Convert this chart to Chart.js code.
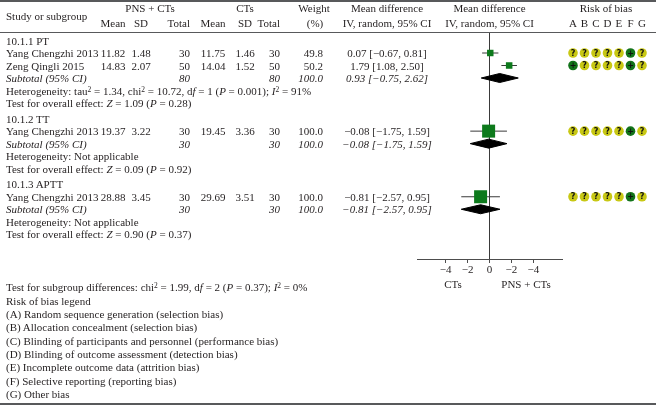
<!DOCTYPE html>
<html>
<head>
<meta charset="utf-8">
<script src="https://cdn.jsdelivr.net/npm/chart.js@4.4.0/dist/chart.umd.min.js"></script>
<style>
body { margin: 0; background: #fff; }
#wrap { position: relative; width: 656px; height: 406px; overflow: hidden;
        font-family: "Liberation Serif", serif; font-size: 11px; color: #231f20; }
#wrap canvas { position: absolute; left: 0; top: 0; }
.t { position: absolute; white-space: nowrap; line-height: 12px; }
.t sup { font-size: 7.5px; line-height: 0; vertical-align: 3.5px; }
.it { font-style: italic; }
.rule { position: absolute; left: 0; width: 656px; background: #58595b; }
</style>
</head>
<body>
<div id="wrap"><canvas id="c" width="656" height="406"></canvas></div>
<script>
// subgroups and studies
const subgroups = ['10.1.1 PT', '10.1.2 TT', '10.1.3 APTT'];
const studies = ['Yang Chengzhi 2013', 'Zeng Qingli 2015', 'Yang Chengzhi 2013', 'Yang Chengzhi 2013'];
const studyGroup = [0, 0, 1, 2];

// PNS + CTs arm
const expMean = [11.82, 14.83, 19.37, 28.88];
const expSD = [1.48, 2.07, 3.22, 3.45];
const expN = [30, 50, 30, 30];
// CTs arm
const ctlMean = [11.75, 14.04, 19.45, 29.69];
const ctlSD = [1.46, 1.52, 3.36, 3.51];
const ctlN = [30, 50, 30, 30];

const weight = [49.8, 50.2, 100.0, 100.0];
const md = [0.07, 1.79, -0.08, -0.81];
const mdLo = [-0.67, 1.08, -1.75, -2.57];
const mdHi = [0.81, 2.50, 1.59, 0.95];

// subtotals
const subMd = [0.93, -0.08, -0.81];
const subLo = [-0.75, -1.75, -2.57];
const subHi = [2.62, 1.59, 0.95];
const subWeight = [100.0, 100.0, 100.0];
const heterogeneity = [
    'Heterogeneity: tau<sup>2</sup> = 1.34, chi<sup>2</sup> = 10.72, d<i>f</i> = 1 (<i>P</i> = 0.001); <i>I</i><sup>2</sup> = 91%',
    'Heterogeneity: Not applicable',
    'Heterogeneity: Not applicable'
];
const overallZ = ['1.09', '0.09', '0.90'];
const overallP = ['0.28', '0.92', '0.37'];

// risk of bias, columns A..G
const biasCols = ['A', 'B', 'C', 'D', 'E', 'F', 'G'];
const bias = [
    ['?', '?', '?', '?', '?', '+', '?'],
    ['+', '?', '?', '?', '?', '+', '?'],
    ['?', '?', '?', '?', '?', '+', '?'],
    ['?', '?', '?', '?', '?', '+', '?']
];
const biasLegend = [
    '(A) Random sequence generation (selection bias)',
    '(B) Allocation concealment (selection bias)',
    '(C) Blinding of participants and personnel (performance bias)',
    '(D) Blinding of outcome assessment (detection bias)',
    '(E) Incomplete outcome data (attrition bias)',
    '(F) Selective reporting (reporting bias)',
    '(G) Other bias'
];

// axis
const tickValues = [-4, -2, 0, 2, 4];
const tickLabels = ['\u22124', '\u22122', '0', '\u22122', '\u22124'];

const GREEN = '#0d7a1c';
const DOT_GREEN = '#12731a';
const DOT_YELLOW = '#c8c814';

// row numbers (y scale units)
const rows = { head: [], study: [], sub: [], het: [], test: [] };
let r = 0;
subgroups.forEach((g, gi) => {
    rows.head.push(r); r++;
    studyGroup.forEach((sg, si) => { if (sg === gi) { rows.study[si] = r; r++; } });
    rows.sub.push(r); r++;
    rows.het.push(r); r++;
    rows.test.push(r); r += 1.25;
});

function fmt(v) { return (v < 0 ? '\u2212' : '') + Math.abs(v).toFixed(2); }
function ci(m, l, h) { return fmt(m) + ' [' + fmt(l) + ', ' + fmt(h) + ']'; }

// datasets
const datasets = [];
datasets.push({
    data: studies.map((s, i) => ({ x: md[i], y: rows.study[i] })),
    pointStyle: 'rect',
    pointRadius: weight.map(w => 13 * w / 100 / Math.SQRT2),
    pointHoverRadius: weight.map(w => 13 * w / 100 / Math.SQRT2),
    backgroundColor: GREEN,
    borderWidth: 0
});
studies.forEach((s, i) => {
    datasets.push({
        data: [{ x: mdLo[i], y: rows.study[i] }, { x: mdHi[i], y: rows.study[i] }],
        showLine: true, pointRadius: 0, borderColor: '#3a3a3a', borderWidth: 1
    });
});
subgroups.forEach((g, i) => {
    const y = rows.sub[i], h = 0.36;
    datasets.push({
        data: [{ x: subLo[i], y: y }, { x: subMd[i], y: y - h }, { x: subHi[i], y: y },
               { x: subMd[i], y: y + h }, { x: subLo[i], y: y }],
        showLine: true, fill: 'shape', tension: 0, pointRadius: 0,
        backgroundColor: '#000', borderColor: '#000', borderWidth: 1
    });
});

// risk of bias dots sit right of the plot area, placed with the hidden xr scale
const biasDots = {
    id: 'biasDots',
    afterDatasetsDraw(chart) {
        const ctx = chart.ctx;
        const xr = chart.scales.xr, ys = chart.scales.y;
        ctx.save();
        ctx.font = 'bold 8px "DejaVu Sans"';
        ctx.textAlign = 'center';
        ctx.textBaseline = 'middle';
        bias.forEach((row, i) => row.forEach((s, k) => {
            const px = xr.getPixelForValue(k), py = ys.getPixelForValue(rows.study[i]);
            ctx.beginPath();
            ctx.arc(px, py, 4.8, 0, Math.PI * 2);
            ctx.fillStyle = s === '+' ? DOT_GREEN : DOT_YELLOW;
            ctx.fill();
            ctx.fillStyle = '#111';
            ctx.fillText(s, px, py + 0.5);
        }));
        ctx.restore();
    }
};

Chart.defaults.font.family = 'Liberation Serif';
Chart.defaults.font.size = 11;
Chart.defaults.color = '#231f20';

const chart = new Chart(document.getElementById('c'), {
    type: 'scatter',
    data: { datasets: datasets },
    options: {
        responsive: false,
        animation: false,
        devicePixelRatio: 1,
        events: [],
        layout: { padding: { left: 417, right: 94, top: 32, bottom: 117 } },
        plugins: { legend: { display: false }, tooltip: { enabled: false } },
        scales: {
            x: {
                type: 'linear', min: -6.6, max: 6.6,
                afterBuildTicks: s => { s.ticks = tickValues.map(v => ({ value: v })); },
                afterFit: s => { s.height = 30; },
                border: { display: true, color: '#4d4d4d', width: 1 },
                grid: {
                    drawOnChartArea: true,
                    color: c => (c.tick && c.tick.value === 0) ? '#3a3a3a' : 'rgba(0,0,0,0)',
                    tickColor: '#4d4d4d', tickLength: 4, lineWidth: 1
                },
                ticks: { callback: (v, i) => tickLabels[i], autoSkip: false, maxRotation: 0, padding: 1 }
            },
            xr: { type: 'linear', display: false, min: -13.565, max: -0.956 },
            y: { type: 'linear', display: false, reverse: true, min: -0.68, max: 17.48 }
        }
    },
    plugins: [biasDots]
});

// table text
const wrap = document.getElementById('wrap');
function put(html, x, y, align, cls) {
    const d = document.createElement('div');
    d.className = 't' + (cls ? ' ' + cls : '');
    d.innerHTML = html;
    d.style.top = (y - 6) + 'px';
    d.style.left = x + 'px';
    if (align === 'center') d.style.transform = 'translateX(-50%)';
    if (align === 'right') d.style.transform = 'translateX(-100%)';
    wrap.appendChild(d);
}
function rule(y, h) {
    const d = document.createElement('div');
    d.className = 'rule';
    d.style.top = y + 'px';
    d.style.height = h + 'px';
    wrap.appendChild(d);
}
const Y = v => chart.scales.y.getPixelForValue(v);
const XR = v => chart.scales.xr.getPixelForValue(v);
const X = v => chart.scales.x.getPixelForValue(v);

rule(0, 1.5);
rule(31.5, 1);
rule(402.5, 2);

// header
put('Study or subgroup', 6, 16, 'left');
put('PNS + CTs', 150, 8, 'center');
put('CTs', 245, 8, 'center');
put('Weight', 314, 8, 'center');
put('Mean difference', 387, 8, 'center');
put('Mean difference', X(0), 8, 'center');
put('Risk of bias', 606, 8, 'center');
put('Mean', 113, 23, 'center');
put('SD', 141, 23, 'center');
put('Total', 190, 23, 'right');
put('Mean', 213, 23, 'center');
put('SD', 245, 23, 'center');
put('Total', 280, 23, 'right');
put('(%)', 315, 23, 'center');
put('IV, random, 95% CI', 387, 23, 'center');
put('IV, random, 95% CI', X(0), 23, 'center');
biasCols.forEach((c, k) => put(c, XR(k), 23, 'center'));

// body
subgroups.forEach((g, gi) => {
    put(g, 6, Y(rows.head[gi]), 'left');
    let ne = 0, nc = 0;
    studies.forEach((s, i) => {
        if (studyGroup[i] !== gi) return;
        const y = Y(rows.study[i]);
        ne += expN[i]; nc += ctlN[i];
        put(s, 6, y, 'left');
        put(expMean[i].toFixed(2), 113, y, 'center');
        put(expSD[i].toFixed(2), 141, y, 'center');
        put(String(expN[i]), 190, y, 'right');
        put(ctlMean[i].toFixed(2), 213, y, 'center');
        put(ctlSD[i].toFixed(2), 245, y, 'center');
        put(String(ctlN[i]), 280, y, 'right');
        put(weight[i].toFixed(1), 323, y, 'right');
        put(ci(md[i], mdLo[i], mdHi[i]), 387, y, 'center');
    });
    const ys = Y(rows.sub[gi]);
    put('Subtotal (95% CI)', 6, ys, 'left', 'it');
    put(String(ne), 190, ys, 'right', 'it');
    put(String(nc), 280, ys, 'right', 'it');
    put(subWeight[gi].toFixed(1), 323, ys, 'right', 'it');
    put(ci(subMd[gi], subLo[gi], subHi[gi]), 387, ys, 'center', 'it');
    put(heterogeneity[gi], 6, Y(rows.het[gi]), 'left');
    put('Test for overall effect: <i>Z</i> = ' + overallZ[gi] + ' (<i>P</i> = ' + overallP[gi] + ')', 6, Y(rows.test[gi]), 'left');
});

// footer
put('CTs', 453, 284, 'center');
put('PNS + CTs', 526, 284, 'center');
put('Test for subgroup differences: chi<sup>2</sup> = 1.99, d<i>f</i> = 2 (<i>P</i> = 0.37); <i>I</i><sup>2</sup> = 0%', 6, 287, 'left');
put('Risk of bias legend', 6, 301, 'left');
biasLegend.forEach((t, k) => put(t, 6, 314 + k * 13.3, 'left'));
</script>
</body>
</html>
